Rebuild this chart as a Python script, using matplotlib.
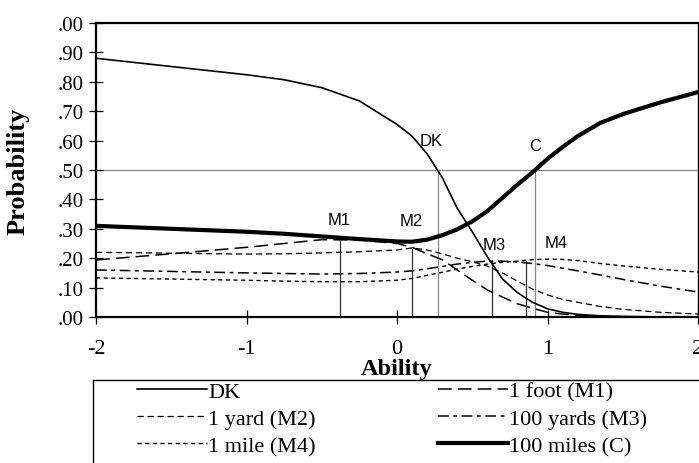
import matplotlib
matplotlib.use("Agg")
import matplotlib.pyplot as plt
from matplotlib.lines import Line2D
from matplotlib.patches import Rectangle

# ── Data ──────────────────────────────────────────────────────────────────────
ability = [-2, -1.5, -1, -0.75, -0.5, -0.25, 0, 0.1, 0.2, 0.3, 0.4, 0.5,
           0.6, 0.7, 0.8, 0.9, 1.0, 1.1, 1.2, 1.35, 1.5, 1.75, 2.0]

dk = [0.88, 0.852, 0.824, 0.807, 0.78, 0.735, 0.655, 0.615, 0.555, 0.475,
      0.37, 0.29, 0.205, 0.13, 0.083, 0.05, 0.028, 0.016, 0.009, 0.004,
      0.002, 0.0, 0.0]
m1 = [0.194, 0.215, 0.237, 0.25, 0.263, 0.262, 0.25, 0.237, 0.215, 0.195,
      0.16, 0.125, 0.092, 0.068, 0.045, 0.03, 0.016, 0.01, 0.006, 0.003,
      0.001, 0.0, 0.0]
m2 = [0.22, 0.217, 0.214, 0.215, 0.218, 0.222, 0.228, 0.235, 0.228, 0.215,
      0.2, 0.188, 0.173, 0.15, 0.122, 0.095, 0.075, 0.06, 0.05, 0.036,
      0.026, 0.016, 0.01]
m3 = [0.16, 0.155, 0.15, 0.148, 0.146, 0.148, 0.153, 0.157, 0.164, 0.172,
      0.18, 0.186, 0.19, 0.19, 0.187, 0.182, 0.175, 0.166, 0.157, 0.143,
      0.128, 0.105, 0.085]
m4 = [0.133, 0.129, 0.125, 0.122, 0.12, 0.12, 0.125, 0.131, 0.142, 0.152,
      0.163, 0.172, 0.18, 0.186, 0.19, 0.195, 0.197, 0.196, 0.192, 0.182,
      0.174, 0.162, 0.153]
c = [0.31, 0.30, 0.29, 0.283, 0.274, 0.265, 0.257, 0.256, 0.263, 0.278,
     0.298, 0.325, 0.36, 0.405, 0.45, 0.492, 0.538, 0.578, 0.615, 0.66,
     0.69, 0.73, 0.765]

# peak locations of the middle options, and the .50 crossings of DK and C
peak_x = [-0.38, 0.1, 0.63, 0.86]
peak_y = [0.265, 0.235, 0.19, 0.19]
half_x = [0.27, 0.92]

yticks = [0.0, 0.1, 0.2, 0.3, 0.4, 0.5, 0.6, 0.7, 0.8, 0.9, 1.0]
ytick_labels = [".00", ".10", ".20", ".30", ".40", ".50", ".60", ".70",
                ".80", ".90", ".00"]
xticks = [-2, -1, 0, 1, 2]

SERIF = "Liberation Serif"
SANS = "Liberation Sans"

# ── Figure ────────────────────────────────────────────────────────────────────
W, H = 699, 464
fig = plt.figure(figsize=(W / 100, H / 100), dpi=100)
ax = fig.add_axes([96 / W, 1 - 318 / H, (698 - 96) / W, (318 - 24) / H])

ax.axhline(0.5, color="#888888", lw=0.9, zorder=1)
ax.vlines(half_x, 0, 0.5, color="#888888", lw=0.9, zorder=1)
ax.vlines(peak_x, 0, peak_y, color="#333333", lw=0.9, zorder=1)

styles = {
    "dk": dict(color="black", lw=1.2, ls="-"),
    "m1": dict(color="black", lw=1.1, ls=(0, (9, 4))),
    "m2": dict(color="black", lw=0.9, ls=(0, (5, 3))),
    "m3": dict(color="black", lw=1.1, ls=(0, (7, 3, 2.5, 3))),
    "m4": dict(color="black", lw=1.0, ls=(0, (3, 2.5))),
    "c":  dict(color="black", lw=3.0, ls="-"),
}
ax.plot(ability, dk, **styles["dk"], zorder=3)
ax.plot(ability, m1, **styles["m1"], zorder=3)
ax.plot(ability, m2, **styles["m2"], zorder=3)
ax.plot(ability, m3, **styles["m3"], zorder=3)
ax.plot(ability, m4, **styles["m4"], zorder=3)
ax.plot(ability, c, **styles["c"], zorder=3)

for txt, x, y in [("DK", 0.23, 0.60), ("C", 0.92, 0.585),
                  ("M1", -0.385, 0.33), ("M2", 0.095, 0.327),
                  ("M3", 0.645, 0.245), ("M4", 1.06, 0.255)]:
    ax.text(x, y, txt, family=SANS, fontsize=12, ha="center", va="center")

ax.set_xlim(-2, 2)
ax.set_ylim(0, 1.0)
ax.set_xticks(xticks)
ax.set_xticklabels([str(t) for t in xticks], family=SERIF, fontsize=16)
ax.set_yticks(yticks)
ax.set_yticklabels(ytick_labels, family=SERIF, fontsize=15)
ax.tick_params(direction="inout", length=10, width=0.9)
ax.tick_params(axis="x", pad=11)
ax.tick_params(axis="y", pad=4)
for s in ["left", "bottom", "top"]:
    ax.spines[s].set_linewidth(1.6)
ax.spines["right"].set_linewidth(1.0)

ax.set_xlabel("Ability", family=SERIF, fontsize=17.5, fontweight="bold",
              labelpad=0)
ax.set_ylabel("Probability", family=SERIF, fontsize=19, fontweight="bold",
              labelpad=20)

# legend box running off the bottom/right of the image
fig.patches.append(Rectangle((93 / W, -0.1), 1.0, 1 - 381 / H + 0.1,
                             transform=fig.transFigure, fill=False,
                             edgecolor="black", lw=1.0))
names = ["DK", "1 yard (M2)", "1 mile (M4)",
         "1 foot (M1)", "100 yards (M3)", "100 miles (C)"]
keys = ["dk", "m2", "m4", "m1", "m3", "c"]
handles = [Line2D([], [], **styles[k]) for k in keys]
fig.legend(handles, names, loc="upper left",
           bbox_to_anchor=(135 / W, 1 - 380 / H), ncol=2, frameon=False,
           prop={"family": SERIF, "size": 16}, handlelength=3.15,
           handletextpad=0.05, labelspacing=0.3, columnspacing=5.5,
           borderpad=0.1, borderaxespad=0)

fig.savefig("out.png", dpi=100)
